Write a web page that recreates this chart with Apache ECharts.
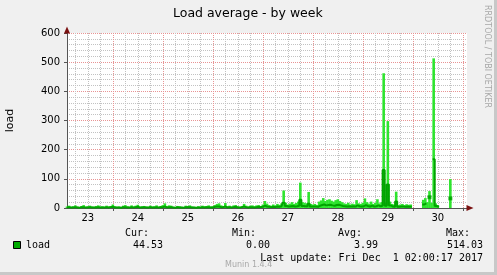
<!DOCTYPE html>
<html><head><meta charset="utf-8">
<script src="https://cdn.jsdelivr.net/npm/echarts@6/dist/echarts.min.js"></script>
<style>html,body{margin:0;padding:0;background:#f0f0f0}#c{width:497px;height:275px}</style>
</head><body><div id="c"></div>
<script>
// Hourly samples starting Thu Nov 23 02:00, ending Fri Dec 1 02:00 (193 points)
const dayLabels = ['23','24','25','26','27','28','29','30'];
const yTicks = [0,100,200,300,400,500,600];
const startHour = 2; // hour-of-day of first sample
const _ = null;
const maxNov23 = [5,8,4,6,9,5,3,7,10,4,6,8,5,4,7,9,5,6,4,8,5,7];
const maxNov24 = [12,6,4,5,3,8,10,6,4,9,5,8,11,4,6,7,5,4,8,5,6,9,4,7];
const maxNov25 = [10,16,6,9,8,4,3,7,6,4,3,8,7,9,5,4,3,6,4,8,6,7,9,5];
const maxNov26 = [6,10,14,16,9,7,17,6,8,5,9,10,6,4,7,14,8,5,8,9,6,9,10,7];
const maxNov27 = [12,24,15,10,8,12,9,14,11,16,60,18,12,15,20,14,17,22,87,20,18,16,55,14];
const maxNov28 = [12,14,10,22,26,34,24,28,30,25,22,27,30,24,20,16,14,18,12,15,13,27,16,14];
const maxNov29 = [18,33,20,15,22,14,18,30,16,20,462,18,298,22,14,12,56,10,12,14,10,13,11,12];
const maxNov30 = [_,_,_,_,_,28,34,20,58,18,513,16,10,_,_,_,_,_,99,_,_,_,_,_];
const maxDec01 = [_,_,_];
const avgNov23 = [2,3,2,2,3,2,1,3,3,2,2,3,2,2,2,3,2,2,2,3,2,3];
const avgNov24 = [4,2,2,2,1,3,3,2,2,3,2,3,4,2,2,3,2,2,3,2,2,3,2,3];
const avgNov25 = [3,5,2,3,3,2,1,3,2,2,1,3,3,3,2,2,1,2,2,3,2,3,3,2];
const avgNov26 = [2,4,5,5,3,3,5,2,3,2,3,4,2,2,3,5,3,2,3,3,2,3,4,3];
const avgNov27 = [4,8,5,4,3,4,3,5,4,6,18,7,5,6,7,5,6,8,28,7,6,6,15,5];
const avgNov28 = [5,5,4,8,10,12,9,10,11,9,8,10,11,9,7,6,5,6,5,6,5,9,6,5];
const avgNov29 = [6,10,7,5,8,5,6,9,6,8,130,8,81,9,5,4,22,4,5,5,4,5,4,4];
const avgNov30 = [_,_,_,_,_,12,16,_,37,_,167,7,4,_,_,_,_,_,33,_,_,_,_,_];
const avgDec01 = [_,_,_];

const maxLoad = [].concat(maxNov23,maxNov24,maxNov25,maxNov26,maxNov27,maxNov28,maxNov29,maxNov30,maxDec01);
const avgLoad = [].concat(avgNov23,avgNov24,avgNov25,avgNov26,avgNov27,avgNov28,avgNov29,avgNov30,avgDec01);
const cats = maxLoad.map((v,i)=>String(i));
const isolatedAvg = avgLoad.map((v,i)=> (v!=null && avgLoad[i-1]==null && avgLoad[i+1]==null) ? v : null);

const hod = i => (startHour + i) % 24;
const isMidnight = i => hod(i) === 0;
const isSix = i => hod(i) % 6 === 0 && !isMidnight(i);
const isNoon = i => hod(i) === 12;

const legendRows = {
  labels: ['Cur:','Min:','Avg:','Max:'],
  values: ['44.53','0.00','3.99','514.03']
};

const chart = echarts.init(document.getElementById('c'), null, {renderer:'canvas'});
const GRID_RED = '#e89494', GRID_GRAY = '#c2c2c2', AX = '#555555', ARROW = '#7a1010';
const mono = 'DejaVu Sans Mono', sans = 'DejaVu Sans';
const colX = [163, 270, 378, 483];
const labX = [149, 256, 362, 470];
const graphics = [
  {type:'rect', shape:{x:494,y:0,width:3,height:275}, style:{fill:'#c8c8c8'}, silent:true},
  {type:'rect', shape:{x:0,y:272,width:497,height:3}, style:{fill:'#c8c8c8'}, silent:true},
  {type:'text', left:173, top:7, style:{text:'Load average - by week', font:'12.5px '+sans, fill:'#000'}},
  {type:'text', x:491, y:5, rotation:-Math.PI/2, style:{text:'RRDTOOL / TOBI OETIKER', font:'8px '+sans, fill:'#a8a8a8', textVerticalAlign:'top'}},
  {type:'rect', shape:{x:13.5,y:241.5,width:7,height:7}, style:{fill:'#00aa00', stroke:'#000', lineWidth:1}},
  {type:'text', x:26, y:245, style:{text:'load', font:'10px '+mono, fill:'#000', textVerticalAlign:'middle'}},
  {type:'text', x:483, y:258, style:{text:'Last update: Fri Dec  1 02:00:17 2017', font:'10px '+mono, fill:'#000', textAlign:'right', textVerticalAlign:'middle'}},
  {type:'text', x:225, y:265, style:{text:'Munin 1.4.4', font:'8px '+sans, fill:'#a8a8a8', textVerticalAlign:'middle'}}
];
legendRows.labels.forEach((t,k)=>graphics.push({type:'text', x:labX[k], y:233, style:{text:t, font:'10px '+mono, fill:'#000', textAlign:'right', textVerticalAlign:'middle'}}));
legendRows.values.forEach((t,k)=>graphics.push({type:'text', x:colX[k], y:245, style:{text:t, font:'10px '+mono, fill:'#000', textAlign:'right', textVerticalAlign:'middle'}}));

const catAxisBase = {type:'category', data:cats, boundaryGap:false, gridIndex:0, position:'bottom'};
chart.setOption({
  backgroundColor:'#f0f0f0',
  animation:false,
  grid:{left:67, top:33, width:400, height:175, show:true, backgroundColor:'#ffffff', borderWidth:0,
        containLabel:false, outerBoundsMode:'none'},
  xAxis:[
    Object.assign({}, catAxisBase, {
      axisLine:{show:true, symbol:['none','triangle'], symbolSize:[6,7], symbolOffset:[0,3], lineStyle:{color:ARROW, width:1}},
      axisTick:{show:false}, axisLabel:{show:false},
      splitLine:{show:true, interval:(i)=>isSix(i), lineStyle:{color:GRID_GRAY, type:[1,1], width:1}}
    }),
    Object.assign({}, catAxisBase, {
      axisLine:{show:true, lineStyle:{color:AX, width:1}},
      axisTick:{show:true, length:3, interval:(i)=>isMidnight(i), lineStyle:{color:AX}},
      axisLabel:{show:true, interval:(i)=>isNoon(i), margin:5, fontFamily:sans, fontSize:10, color:'#000',
        formatter:(v,i)=> dayLabels[Math.floor((startHour + Number(v))/24)] },
      splitLine:{show:true, interval:(i)=>isMidnight(i), lineStyle:{color:GRID_RED, type:[1,1], width:1}}
    })
  ],
  yAxis:[
    {type:'value', min:yTicks[0], max:yTicks[yTicks.length-1], interval:100, gridIndex:0,
      axisLine:{show:true, symbol:['none','triangle'], symbolSize:[6,7], symbolOffset:[0,3], lineStyle:{color:ARROW, width:1}},
      axisTick:{show:false}, axisLabel:{show:false},
      minorTick:{show:true, splitNumber:5, length:0},
      minorSplitLine:{show:true, lineStyle:{color:GRID_GRAY, type:[1,1], width:1}},
      splitLine:{show:true, lineStyle:{color:GRID_RED, type:[1,1], width:1}}
    },
    {type:'value', min:yTicks[0], max:yTicks[yTicks.length-1], interval:100, gridIndex:0,
      position:'left',
      name:'load', nameLocation:'middle', nameGap:51, nameRotate:90,
      nameTextStyle:{fontFamily:sans, fontSize:11, color:'#000'},
      axisLine:{show:true, lineStyle:{color:AX, width:1}},
      axisTick:{show:true, length:3, lineStyle:{color:AX}},
      axisLabel:{show:true, margin:7, fontFamily:sans, fontSize:10, color:'#000'},
      splitLine:{show:false}
    }
  ],
  series:[
    {type:'bar', name:'max', xAxisIndex:1, yAxisIndex:1, data:maxLoad, barWidth:2.6,
      itemStyle:{color:'#2ee42e'}, silent:true},
    {type:'line', name:'load', xAxisIndex:1, yAxisIndex:1, data:avgLoad, step:'middle', showSymbol:false,
      lineStyle:{color:'#00a400', width:2}, silent:true},
    {type:'scatter', xAxisIndex:1, yAxisIndex:1, data:isolatedAvg, symbol:'rect', symbolSize:4,
      itemStyle:{color:'#00a400'}, silent:true}
  ],
  graphic:graphics
});
</script></body></html>
